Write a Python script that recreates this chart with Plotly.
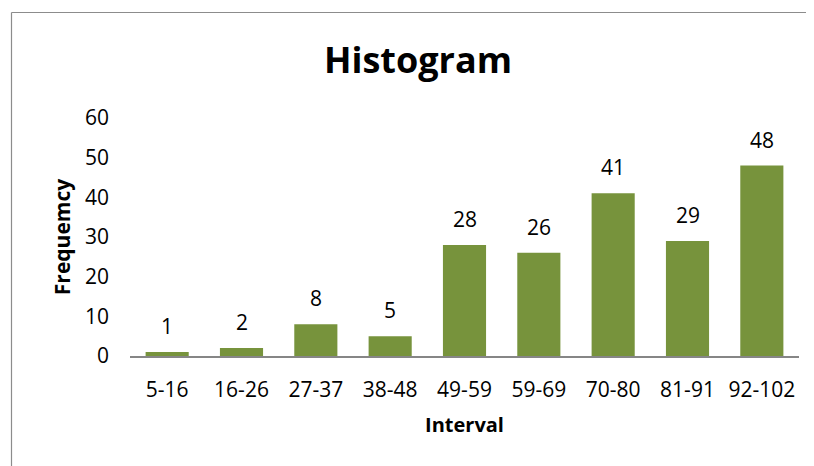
import plotly.graph_objects as go

categories = ["5-16", "16-26", "27-37", "38-48", "49-59", "59-69", "70-80", "81-91", "92-102"]
frequency = [1, 2, 8, 5, 28, 26, 41, 29, 48]
y_ticks = [0, 10, 20, 30, 40, 50, 60]

FONT = "Open Sans"
BAR = "#77933C"

fig = go.Figure()
fig.add_trace(go.Bar(x=categories, y=frequency, marker=dict(color=BAR, line=dict(width=0)),
                     hoverinfo="x+y"))

for c, v in zip(categories, frequency):
    fig.add_annotation(x=c, y=v, text=str(v), showarrow=False, yshift=26,
                       xanchor="center", yanchor="middle",
                       font=dict(family=FONT, size=21, color="#000000"))

# page has an 8px body margin; sizes/margins are in figure coordinates
OFF = 8
W, H = 814 - OFF, 466 - OFF
L, T = 130 - OFF, 118 - OFF
R = (W + OFF) - 799
B = (H + OFF) - 356
pw, ph = W - L - R, H - T - B

def px(x):
    return (x - OFF - L) / pw

def py(y):
    return (H - B - (y - OFF)) / ph

border = dict(color="#8c8c8c", width=1.2)
# chart-area frame: left and top edges only
fig.add_shape(type="line", xref="paper", yref="paper",
              x0=px(11.5), x1=px(11.5), y0=py(466), y1=py(12.5), line=border, layer="below")
fig.add_shape(type="line", xref="paper", yref="paper",
              x0=px(11.5), x1=px(813), y0=py(12.5), y1=py(12.5), line=border, layer="below")

fig.update_layout(
    width=W, height=H,
    margin=dict(l=L, r=R, t=T, b=B),
    paper_bgcolor="white", plot_bgcolor="white",
    bargap=0.42,
    showlegend=False,
    title=dict(text="<b>Histogram</b>", x=(418 - OFF) / W, xanchor="center",
               y=1 - (60 - OFF) / H, yanchor="middle",
               font=dict(family=FONT, size=36, color="#000000")),
    xaxis=dict(
        showline=True, linecolor="#868686", linewidth=2,
        showgrid=False, zeroline=False, ticks="",
        ticklabelstandoff=14,
        tickfont=dict(family=FONT, size=21, color="#000000"),
        title=dict(text="<b>Interval</b>", standoff=16,
                   font=dict(family=FONT, size=20, color="#000000")),
    ),
    yaxis=dict(
        range=[0, 60], tickvals=y_ticks, ticktext=[str(t) for t in y_ticks],
        showline=False, showgrid=False, zeroline=False, ticks="",
        ticklabelstandoff=20,
        tickfont=dict(family=FONT, size=21, color="#000000"),
        title=dict(text="<b>Frequemcy</b>", standoff=8,
                   font=dict(family=FONT, size=21, color="#000000")),
    ),
)

fig.write_html("out.html")
